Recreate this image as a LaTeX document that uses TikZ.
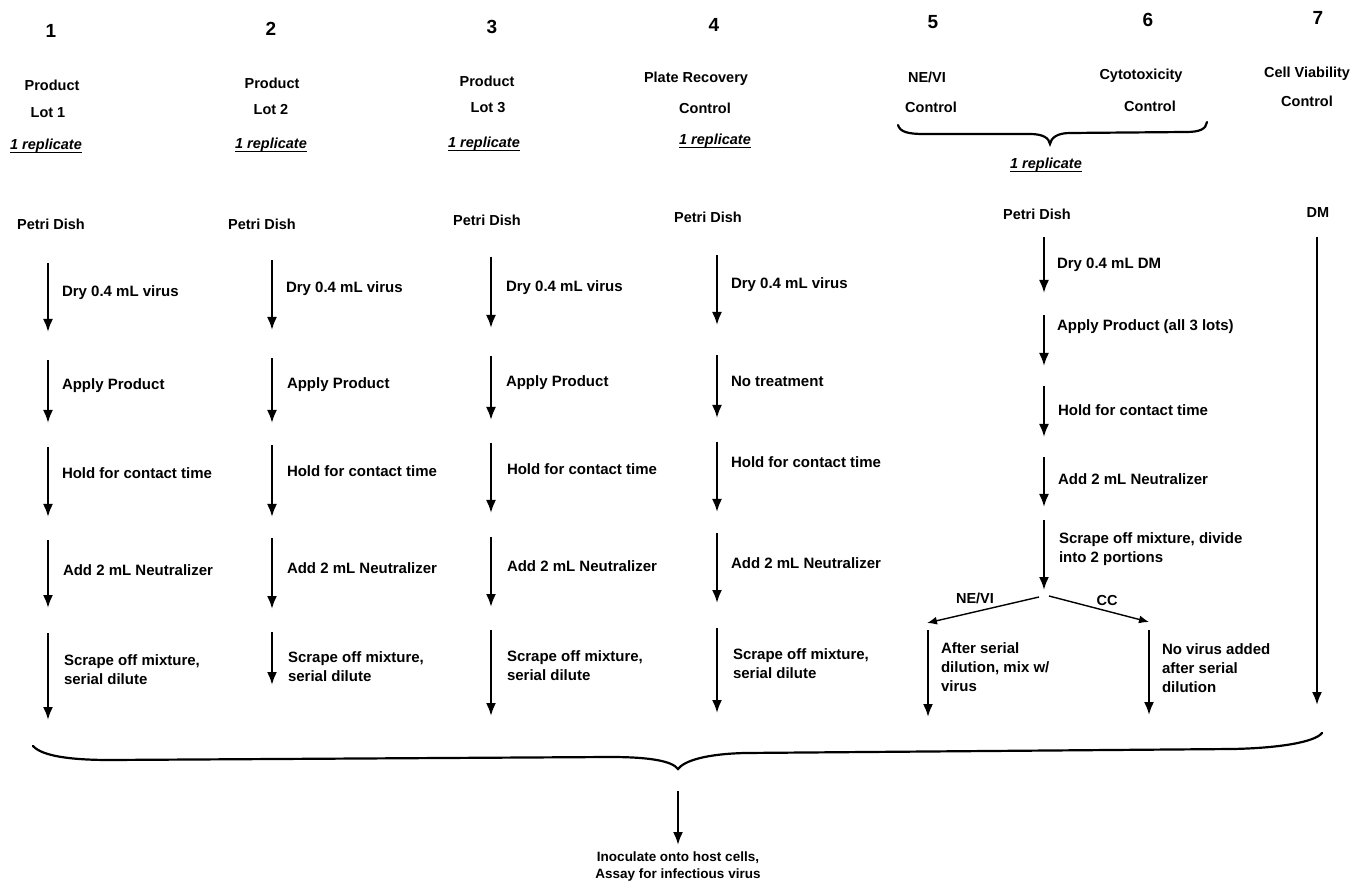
\documentclass[tikz,border=0pt]{standalone}
\usepackage{fontspec}
\setmainfont{Liberation Sans}
\usetikzlibrary{arrows.meta}
\begin{document}
\begin{tikzpicture}[x=1pt,y=-1pt,
  every node/.style={inner sep=0pt, outer sep=0pt},
  steptext/.style={font=\fontsize{15}{19}\selectfont\bfseries, anchor=west, align=left},
  hdr/.style={font=\fontsize{14.5}{17}\selectfont\bfseries},
  num/.style={font=\fontsize{19}{22}\selectfont\bfseries},
  rep/.style={font=\fontsize{14.5}{17}\selectfont\bfseries\itshape},
  flow/.style={line width=2.2pt, -{Latex[length=13pt,width=10pt]}},
  branch/.style={line width=1.4pt, -{Latex[length=10pt,width=8pt]}},
  brace/.style={line width=2.2pt, line cap=round},
  uline/.style={line width=1.3pt}]

\fill[white] (0,0) rectangle (1361,890);
\useasboundingbox (0,0) rectangle (1361,890);

% column numbers
\node[num] (n1) at (51,31) {1};
\node[num] (n2) at (271,29) {2};
\node[num] (n3) at (492,27) {3};
\node[num] (n4) at (714,25) {4};
\node[num] (n5) at (933,22) {5};
\node[num] (n6) at (1148,20) {6};
\node[num] (n7) at (1318,18) {7};

% headers
\node[hdr] (h1a) at (52,85) {Product};
\node[hdr] (h1b) at (48,113) {Lot 1};
\node[rep] (r1) at (46,146) {1 replicate};
\node[hdr] (h2a) at (272,83) {Product};
\node[hdr] (h2b) at (271,110) {Lot 2};
\node[rep] (r2) at (271,145) {1 replicate};
\node[hdr] (h3a) at (487,81) {Product};
\node[hdr] (h3b) at (488,108) {Lot 3};
\node[rep] (r3) at (484,144) {1 replicate};
\node[hdr] (h4a) at (696,79) {Plate Recovery};
\node[hdr] (h4b) at (705,108) {Control};
\node[rep] (r4) at (715,141) {1 replicate};
\node[hdr] (h5a) at (927,77) {NE/VI};
\node[hdr] (h5b) at (931,107) {Control};
\node[hdr] (h6a) at (1141,76) {Cytotoxicity};
\node[hdr] (h6b) at (1150,106) {Control};
\node[hdr] (h7a) at (1307,74) {Cell Viability};
\node[hdr] (h7b) at (1307,101) {Control};
\node[rep] (r5) at (1046,165) {1 replicate};
\foreach \r in {r1,r2,r3,r4,r5}{
  \draw[uline] ([yshift=-2.5pt]\r.base west) -- ([yshift=-2.5pt]\r.base east);
}

% brace over 5 and 6
\coordinate (tb1) at (898,125);
\coordinate (tbtip) at (1050,144);
\coordinate (tb2) at (1207,122);
\draw[brace] (tb1) .. controls (900,132) and (908,134) .. (924,134) -- (1030,134)
  .. controls (1043,134) and (1049,138) .. (tbtip)
  .. controls (1051,138) and (1057,133) .. (1070,133) -- (1186,132)
  .. controls (1200,132) and (1206,129) .. (tb2);

% start labels
\node[hdr] (p1) at (51,224) {Petri Dish};
\node[hdr] (p2) at (262,224) {Petri Dish};
\node[hdr] (p3) at (487,220) {Petri Dish};
\node[hdr] (p4) at (708,217) {Petri Dish};
\node[hdr] (p5) at (1037,214) {Petri Dish};
\node[hdr] (p7) at (1318,213) {DM};

% step arrows
\foreach \n/\x/\a/\b in {
  c1s1/48/263/332, c1s2/48/360/423, c1s3/48/447/517, c1s4/48/540/608, c1s5/48/633/720,
  c2s1/272/260/330, c2s2/272/358/423, c2s3/272/445/517, c2s4/272/538/609, c2s5/272/632/685,
  c3s1/491/257/328, c3s2/491/356/420, c3s3/491/443/513, c3s4/491/537/607, c3s5/491/630/716,
  c4s1/717/255/325, c4s2/717/355/418, c4s3/717/442/512, c4s4/717/533/603, c4s5/717/628/713,
  c5s1/1044/237/293, c5s2/1044/315/366, c5s3/1044/386/437, c5s4/1044/457/507, c5s5/1044/520/590,
  c5L/928/630/717, c5R/1149/630/715,
  c7s1/1317/237/705}{
  \coordinate (\n-a) at (\x,\a);
  \coordinate (\n-b) at (\x,\b);
  \draw[flow] (\n-a) -- (\n-b);
}

% column 1 texts
\node[steptext] (t11) at (62,293) {Dry 0.4 mL virus};
\node[steptext] (t12) at (62,386) {Apply Product};
\node[steptext] (t13) at (62,473) {Hold for contact time};
\node[steptext] (t14) at (63,570) {Add 2 mL Neutralizer};
\node[steptext] (t15) at (64,670) {Scrape off mixture,\\serial dilute};
% column 2 texts
\node[steptext] (t21) at (286,289) {Dry 0.4 mL virus};
\node[steptext] (t22) at (287,385) {Apply Product};
\node[steptext] (t23) at (287,471) {Hold for contact time};
\node[steptext] (t24) at (287,568) {Add 2 mL Neutralizer};
\node[steptext] (t25) at (288,667) {Scrape off mixture,\\serial dilute};
% column 3 texts
\node[steptext] (t31) at (506,288) {Dry 0.4 mL virus};
\node[steptext] (t32) at (506,383) {Apply Product};
\node[steptext] (t33) at (507,469) {Hold for contact time};
\node[steptext] (t34) at (507,566) {Add 2 mL Neutralizer};
\node[steptext] (t35) at (507,666) {Scrape off mixture,\\serial dilute};
% column 4 texts
\node[steptext] (t41) at (731,285) {Dry 0.4 mL virus};
\node[steptext] (t42) at (731,381) {No treatment};
\node[steptext] (t43) at (731,462) {Hold for contact time};
\node[steptext] (t44) at (731,563) {Add 2 mL Neutralizer};
\node[steptext] (t45) at (733,664) {Scrape off mixture,\\serial dilute};
% column 5/6 texts
\node[steptext] (t51) at (1057,265) {Dry 0.4 mL DM};
\node[steptext] (t52) at (1057,327) {Apply Product (all 3 lots)};
\node[steptext] (t53) at (1058,410) {Hold for contact time};
\node[steptext] (t54) at (1058,479) {Add 2 mL Neutralizer};
\node[steptext] (t55) at (1059,549) {Scrape off mixture, divide\\into 2 portions};
\node[steptext] (t5L) at (941,667) {After serial\\dilution, mix w/\\virus};
\node[steptext] (t5R) at (1162,668) {No virus added\\after serial\\dilution};

% branch
\coordinate (bl0) at (1039,597);
\coordinate (br0) at (1049,596);
\coordinate (bl1) at (927,623);
\coordinate (br1) at (1149,622);
\draw[branch] (bl0) -- (bl1);
\draw[branch] (br0) -- (br1);
\node[hdr] (lblL) at (975,598) {NE/VI};
\node[hdr] (lblR) at (1107,601) {CC};

% bottom brace
\coordinate (bb1) at (33,746);
\coordinate (bbtip) at (678,769);
\coordinate (bb2) at (1322,733);
\draw[brace] (bb1) .. controls (42,756) and (70,760) .. (110,760) -- (610,757)
  .. controls (650,757) and (672,761) .. (bbtip)
  .. controls (684,761) and (705,754) .. (745,753) -- (1233,749)
  .. controls (1280,748) and (1315,742) .. (bb2);

% final step
\coordinate (fa) at (678,791);
\node[font=\fontsize{13.5}{17}\selectfont\bfseries, align=center, anchor=north] (fin) at (678,852)
  {Inoculate onto host cells,\\Assay for infectious virus};
\draw[flow] (fa) -- ([yshift=7pt]fin.north);
\end{tikzpicture}
\end{document}
